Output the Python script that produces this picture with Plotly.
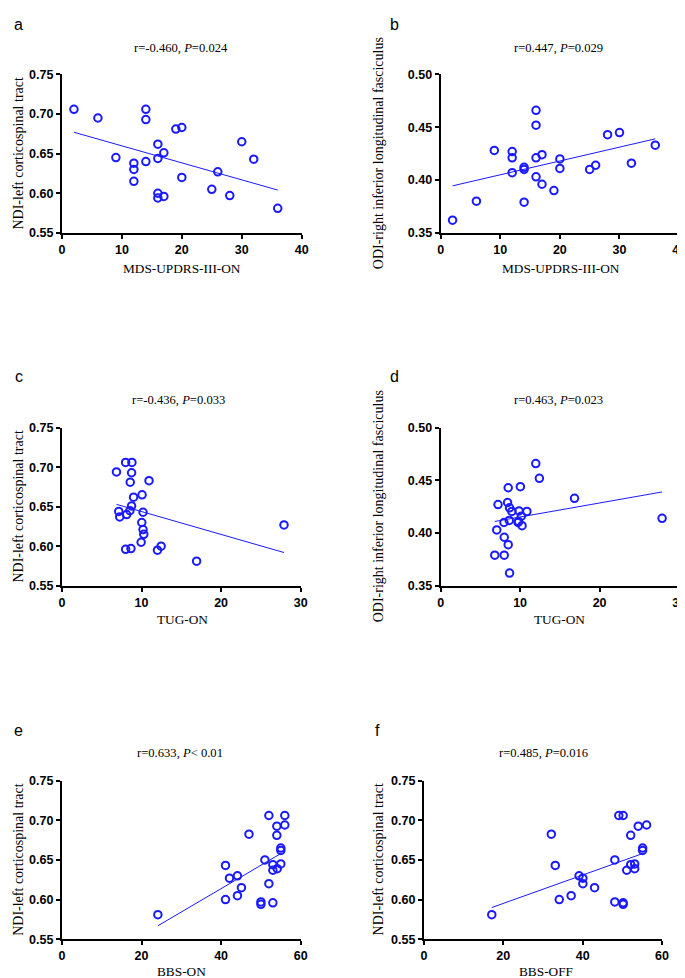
import plotly.graph_objects as go

W, H = 685, 978

# ---------------- data ----------------
a_x = [2, 6, 9, 12, 12, 12, 14, 14, 14, 16, 16, 16, 16, 17, 17, 19, 20, 20, 25, 26, 28, 30, 32, 36]
a_y = [0.706, 0.695, 0.645, 0.638, 0.630, 0.615, 0.706, 0.693, 0.640, 0.662, 0.644, 0.600, 0.594,
       0.651, 0.596, 0.681, 0.683, 0.620, 0.605, 0.627, 0.597, 0.665, 0.643, 0.581]
a_fit_x = [2, 36]
a_fit_y = [0.677, 0.604]

b_x = [2, 6, 9, 12, 12, 12, 14, 14, 14, 16, 16, 16, 16, 17, 17, 19, 20, 20, 25, 26, 28, 30, 32, 36]
b_y = [0.362, 0.380, 0.428, 0.427, 0.421, 0.407, 0.412, 0.410, 0.379, 0.466, 0.452, 0.421, 0.403,
       0.424, 0.396, 0.390, 0.420, 0.411, 0.410, 0.414, 0.443, 0.445, 0.416, 0.433]
b_fit_x = [2, 36]
b_fit_y = [0.3945, 0.439]

c_x = [6.85, 7.14, 7.26, 8.0, 8.13, 8.0, 8.54, 8.58, 8.67, 8.75, 8.79, 8.75, 9.0, 9.95, 10.03, 10.07,
       10.19, 10.19, 10.28, 10.94, 12.0, 12.46, 16.92, 27.9]
c_y = [0.694, 0.644, 0.637, 0.706, 0.640, 0.596, 0.645, 0.681, 0.597, 0.693, 0.706, 0.651, 0.662,
       0.605, 0.630, 0.665, 0.643, 0.621, 0.615, 0.683, 0.595, 0.600, 0.581, 0.627]
c_fit_x = [6.85, 27.9]
c_fit_y = [0.653, 0.592]

d_x = [6.81, 7.06, 7.22, 7.97, 8.0, 8.0, 8.42, 8.5, 8.5, 8.63, 8.67, 8.67, 8.96, 9.86, 9.74, 10.03,
       10.15, 10.24, 10.85, 11.97, 12.42, 16.84, 27.86, 9.8]
d_y = [0.379, 0.403, 0.427, 0.410, 0.396, 0.379, 0.429, 0.443, 0.389, 0.412, 0.424, 0.362, 0.4205,
       0.421, 0.410, 0.444, 0.416, 0.407, 0.4205, 0.466, 0.452, 0.433, 0.414, 0.411]
d_fit_x = [6.81, 27.86]
d_fit_y = [0.411, 0.439]

e_x = [24.1, 41.1, 41.1, 42.1, 44.1, 44.1, 45.1, 47, 50, 50, 51, 52, 52, 53, 53, 53, 54, 54, 54.1,
       55, 55, 55, 56, 56]
e_y = [0.581, 0.643, 0.600, 0.627, 0.630, 0.605, 0.615, 0.6825, 0.597, 0.594, 0.650, 0.706, 0.620,
       0.644, 0.637, 0.596, 0.6925, 0.681, 0.639, 0.665, 0.662, 0.645, 0.706, 0.694]
e_fit_x = [24.1, 55]
e_fit_y = [0.567, 0.658]

f_x = [17.1, 32.1, 33.1, 34.1, 37.1, 39.1, 40.05, 40.05, 43, 48.1, 48.1, 49.1, 50.2, 50.2, 50.2,
       51.1, 52.1, 52.1, 53.1, 53.1, 54, 55.1, 55.1, 56.1]
f_y = [0.581, 0.6825, 0.643, 0.600, 0.605, 0.630, 0.627, 0.620, 0.615, 0.650, 0.597, 0.706, 0.706,
       0.596, 0.594, 0.637, 0.681, 0.644, 0.645, 0.639, 0.6925, 0.665, 0.662, 0.694]
f_fit_x = [17.1, 55.1]
f_fit_y = [0.590, 0.658]

# tick values
ndi_ticks = [0.55, 0.60, 0.65, 0.70, 0.75]
odi_ticks = [0.35, 0.40, 0.45, 0.50]
updrs_ticks = [0, 10, 20, 30, 40]
tug_ticks = [0, 10, 20, 30]
bbs_ticks = [0, 20, 40, 60]

letters = ["a", "b", "c", "d", "e", "f"]
titles = ["r=-0.460, <i>P</i>=0.024", "r=0.447, <i>P</i>=0.029",
          "r=-0.436, <i>P</i>=0.033", "r=0.463, <i>P</i>=0.023",
          "r=0.633, <i>P</i>< 0.01", "r=0.485, <i>P</i>=0.016"]
x_titles = ["MDS-UPDRS-III-ON", "MDS-UPDRS-III-ON", "TUG-ON", "TUG-ON", "BBS-ON", "BBS-OFF"]
y_titles = ["NDI-left corticospinal tract", "ODI-right inferior longitudinal fasciculus",
            "NDI-left corticospinal tract", "ODI-right inferior longitudinal fasciculus",
            "NDI-left corticospinal tract", "NDI-left corticospinal tract"]
x_tickvals = [updrs_ticks, updrs_ticks, tug_ticks, tug_ticks, bbs_ticks, bbs_ticks]
y_tickvals = [ndi_ticks, odi_ticks, ndi_ticks, odi_ticks, ndi_ticks, ndi_ticks]

xs = [a_x, b_x, c_x, d_x, e_x, f_x]
ys = [a_y, b_y, c_y, d_y, e_y, f_y]
fxs = [a_fit_x, b_fit_x, c_fit_x, d_fit_x, e_fit_x, f_fit_x]
fys = [a_fit_y, b_fit_y, c_fit_y, d_fit_y, e_fit_y, f_fit_y]

# ---------------- layout (pixel boxes) ----------------
# plot area: left, right, top, bottom in px
boxes = [(51.7, 295, 60.3, 221), (436, 678, 60.3, 221),
         (51.7, 294, 418.7, 579), (436, 678, 418.7, 579),
         (51.7, 294, 776.7, 937.7), (419, 660.7, 776.7, 937.7)]
letter_pos = [(8, 10), (389, 10), (8, 367), (389, 367), (8, 726), (372, 726)]
title_pos = [(173, 33), (556, 33), (170, 391), (556, 391), (172, 749), (540, 749)]
xtitle_pos = [(174, 257), (558, 257), (174, 613), (557, 613), (173, 970), (543, 970)]
ytitle_x = [8, 373, 8, 373, 8, 373]

BLUE = "#1a1aff"
fig = go.Figure()
annotations = []
layout = {}


def px_x(v):
    return v / W


def px_y(v):
    return 1 - v / H


for i in range(6):
    n = "" if i == 0 else str(i + 1)
    xa, ya = "x" + n, "y" + n
    l, r, t, b = boxes[i]
    fig.add_trace(go.Scatter(x=fxs[i], y=fys[i], mode="lines", xaxis=xa, yaxis=ya,
                             line=dict(color=BLUE, width=1), showlegend=False, hoverinfo="skip"))
    fig.add_trace(go.Scatter(x=xs[i], y=ys[i], mode="markers", xaxis=xa, yaxis=ya,
                             marker=dict(symbol="circle-open", size=7.5, color=BLUE,
                                         line=dict(width=2, color=BLUE)),
                             showlegend=False, cliponaxis=False))
    common = dict(showline=True, linecolor="black", linewidth=2, ticks="outside", ticklen=4,
                  tickwidth=2, tickcolor="black", showgrid=False, zeroline=False,
                  tickfont=dict(family="Liberation Sans, Arial", size=12.5, color="black"))
    xv = x_tickvals[i]
    yv = y_tickvals[i]
    layout["xaxis" + n] = dict(domain=[px_x(l), px_x(r)], range=[xv[0], xv[-1]],
                               tickmode="array", tickvals=xv,
                               ticktext=["<b>%d</b>" % v for v in xv], anchor=ya, **common)
    layout["yaxis" + n] = dict(domain=[px_y(b), px_y(t)], range=[yv[0], yv[-1]],
                               tickmode="array", tickvals=yv,
                               ticktext=["<b>%.2f</b>" % v for v in yv], anchor=xa, **common)

    lx, ly = letter_pos[i]
    annotations.append(dict(text=letters[i], x=px_x(lx), y=px_y(ly), xref="paper", yref="paper",
                            showarrow=False, xanchor="center", yanchor="middle",
                            font=dict(family="Liberation Sans, Arial", size=16, color="black")))
    tx, ty = title_pos[i]
    annotations.append(dict(text=titles[i], x=px_x(tx), y=px_y(ty), xref="paper", yref="paper",
                            showarrow=False, xanchor="center", yanchor="middle",
                            font=dict(family="Liberation Serif, Times New Roman", size=12.6, color="black")))
    xx, xy = xtitle_pos[i]
    annotations.append(dict(text=x_titles[i], x=px_x(xx), y=px_y(xy), xref="paper", yref="paper",
                            showarrow=False, xanchor="center", yanchor="middle",
                            font=dict(family="Liberation Serif, Times New Roman", size=13.3, color="black")))
    annotations.append(dict(text=y_titles[i], x=px_x(ytitle_x[i]), y=px_y((t + b) / 2),
                            xref="paper", yref="paper", showarrow=False, textangle=-90,
                            xanchor="center", yanchor="middle",
                            font=dict(family="Liberation Serif, Times New Roman", size=14, color="black")))

fig.update_layout(width=W, height=H, margin=dict(l=0, r=0, t=0, b=0),
                  paper_bgcolor="white", plot_bgcolor="white",
                  annotations=annotations, **layout)

fig.write_html("out.html")
